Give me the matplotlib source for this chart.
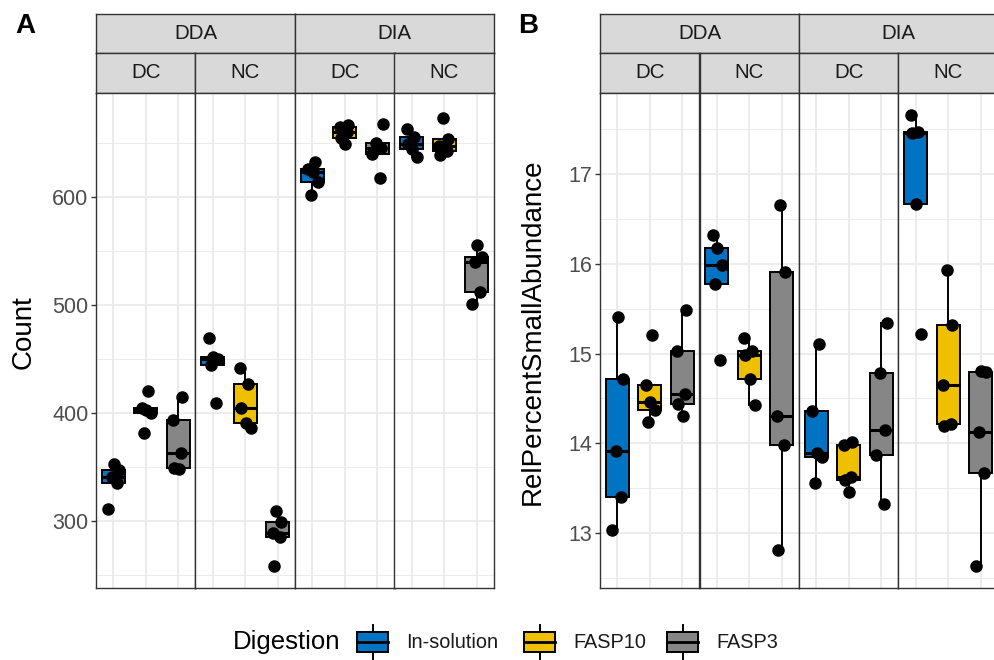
import numpy as np
import matplotlib as mpl
mpl.use("Agg")
from matplotlib import pyplot as plt
from matplotlib.patches import Rectangle

plt.rcParams['font.family'] = ['Liberation Sans', 'DejaVu Sans']

W, H = 995, 660

digestion = ["In-solution", "FASP10", "FASP3"]
fill_colors = ["#0073C2", "#EFC000", "#868686"]
acquisition = ["DDA", "DIA"]
column = ["DC", "NC"]

# Count: facet -> digestion -> 5 replicates
count_dda_dc = [[311, 335, 341, 347, 353], [381, 400, 403, 405, 420], [348, 349, 363, 393, 415]]
count_dda_nc = [[409, 444, 450, 452, 469], [386, 391, 405, 427, 442], [258, 285, 289, 299, 309]]
count_dia_dc = [[602, 614, 623, 626, 632], [649, 654, 660, 665, 666], [617, 640, 645, 650, 667]]
count_dia_nc = [[637, 644, 649, 655, 663], [639, 642, 647, 653, 673], [501, 512, 540, 544, 555]]

# RelPercentSmallAbundance
rel_dda_dc = [[13.04, 13.40, 13.92, 14.72, 15.41], [14.24, 14.37, 14.46, 14.65, 15.21], [14.30, 14.44, 14.55, 15.03, 15.48]]
rel_dda_nc = [[14.93, 15.77, 15.98, 16.18, 16.32], [14.43, 14.72, 14.98, 15.03, 15.17], [12.81, 13.98, 14.31, 15.91, 16.65]]
rel_dia_dc = [[13.56, 13.85, 13.89, 14.36, 15.11], [13.46, 13.59, 13.63, 13.98, 14.02], [13.33, 13.87, 14.15, 14.78, 15.34]]
rel_dia_nc = [[15.22, 16.66, 17.46, 17.47, 17.65], [14.19, 14.21, 14.65, 15.32, 15.93], [12.63, 13.67, 14.13, 14.79, 14.81]]

count_facets = [count_dda_dc, count_dda_nc, count_dia_dc, count_dia_nc]
rel_facets = [rel_dda_dc, rel_dda_nc, rel_dia_dc, rel_dia_nc]

JIT = [-0.16, 0.11, -0.04, 0.17, 0.02, -0.12, 0.07]

BORDER = "#333333"
GRID = "#EBEBEB"


def rect(x0, y0, x1, y1):
    return [x0 / W, 1 - y1 / H, (x1 - x0) / W, (y1 - y0) / H]


def strip(fig, x0, y0, x1, y1, label):
    ax = fig.add_axes(rect(x0, y0, x1, y1))
    ax.set_facecolor("#D9D9D9")
    ax.set_xticks([])
    ax.set_yticks([])
    for s in ax.spines.values():
        s.set_color(BORDER)
        s.set_linewidth(1.0)
    ax.text(0.5, 0.5, label, ha="center", va="center", fontsize=14.8, color="#1A1A1A", transform=ax.transAxes)


def draw_panel(fig, xedges, facets, ylim, major, minor, ylabel, ylabel_x, letter, letter_x):
    y_s1, y_s2, y_p0, y_p1 = 14, 53, 93, 588
    for k, name in enumerate(acquisition):
        strip(fig, xedges[2 * k], y_s1, xedges[2 * k + 2], y_s2, name)
    for f in range(4):
        strip(fig, xedges[f], y_s2, xedges[f + 1], y_p0, column[f % 2])
        ax = fig.add_axes(rect(xedges[f], y_p0, xedges[f + 1], y_p1))
        ax.set_xlim(0.47, 3.53)
        ax.set_ylim(*ylim)
        ax.set_yticks(major)
        ax.set_yticks(minor, minor=True)
        ax.set_xticks([1, 2, 3])
        ax.grid(True, which="major", color=GRID, linewidth=1.3)
        ax.grid(True, which="minor", axis="y", color=GRID, linewidth=0.7)
        ax.set_axisbelow(True)
        ax.tick_params(axis="x", length=0, labelbottom=False)
        ax.tick_params(axis="y", which="minor", length=0)
        if f == 0:
            ax.tick_params(axis="y", which="major", length=3.5, width=1, color=BORDER,
                           labelsize=15.5, labelcolor="#4D4D4D", pad=2)
        else:
            ax.tick_params(axis="y", which="major", length=0, labelleft=False)
        for s in ax.spines.values():
            s.set_color(BORDER)
            s.set_linewidth(1.0)
        data = facets[f]
        bp = ax.boxplot(data, positions=[1, 2, 3], widths=0.7, patch_artist=True,
                        showfliers=False, showcaps=False, whis=1.5,
                        boxprops=dict(edgecolor="black", linewidth=1.4),
                        whiskerprops=dict(color="black", linewidth=1.4),
                        medianprops=dict(color="black", linewidth=2.2))
        for patch, c in zip(bp["boxes"], fill_colors):
            patch.set_facecolor(c)
        for g, vals in enumerate(data):
            xs = [g + 1 + JIT[(i + 2 * g + f) % len(JIT)] for i in range(len(vals))]
            ax.plot(xs, vals, "o", color="black", markersize=8, zorder=5)
    fig.text(ylabel_x / W, 1 - 332 / H, ylabel, rotation=90, ha="center", va="center",
             fontsize=20, color="black")
    fig.text(letter_x / W, 1 - 26 / H, letter, ha="center", va="center", fontsize=20,
             fontweight="bold", color="black")


fig = plt.figure(figsize=(W / 100, H / 100), dpi=100)

draw_panel(fig, [96, 195.5, 295, 394.5, 494], count_facets, (238, 696),
           [300, 400, 500, 600], [250, 350, 450, 550, 650], "Count", 24, "A", 25)
draw_panel(fig, [600, 699.5, 799, 898.5, 998], rel_facets, (12.39, 17.90),
           [13, 14, 15, 16, 17], [12.5, 13.5, 14.5, 15.5, 16.5, 17.5],
           "RelPercentSmallAbundance", 533, "B", 528)

# legend drawn in pixel coordinates
lg = fig.add_axes([0, 0, 1, 1], zorder=10)
lg.set_xlim(0, W)
lg.set_ylim(H, 0)
lg.axis("off")
lg.text(233, 642, "Digestion", ha="left", va="center", fontsize=18.5, color="black")
key_left = [357, 524, 667]
for kx, lab, c in zip(key_left, digestion, fill_colors):
    lg.plot([kx + 15.5, kx + 15.5], [625, 659], color="black", linewidth=1.4)
    lg.add_patch(Rectangle((kx, 632), 31, 20, facecolor=c, edgecolor="black", linewidth=1.4, zorder=3))
    lg.plot([kx, kx + 31], [642, 642], color="black", linewidth=2.0, zorder=4)
    lg.text(kx + 49, 642, lab, ha="left", va="center", fontsize=14.3, color="#1A1A1A")

fig.savefig("out.png", dpi=100)
